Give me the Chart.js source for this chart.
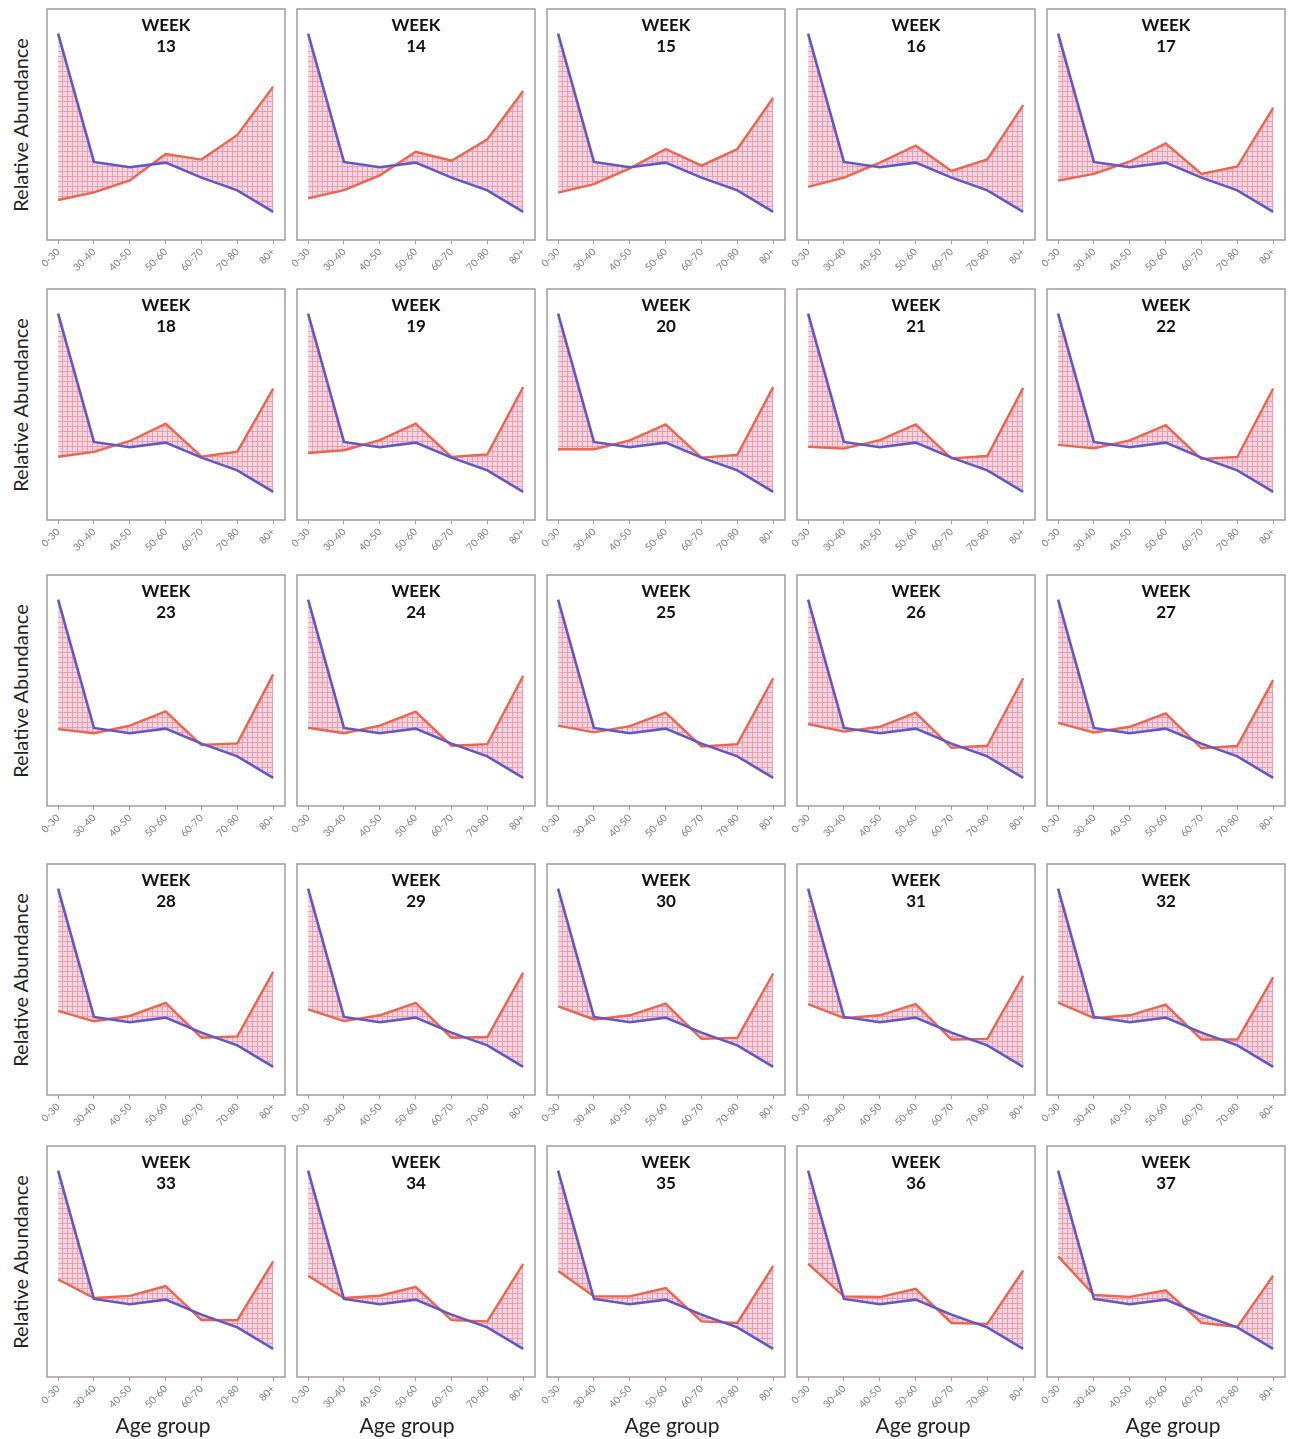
<!DOCTYPE html>
<html>
<head>
<meta charset="utf-8">
<script src="https://cdn.jsdelivr.net/npm/chart.js@4.4.1/dist/chart.umd.min.js"></script>
<style>
    body {
        margin: 0;
        background: #fff;
        width: 1290px;
        height: 1439px;
        position: relative;
        overflow: hidden;
        font-family: Lato, 'Open Sans', sans-serif;
    }
    canvas {
        position: absolute;
    }
    .week {
        position: absolute;
        width: 238px;
        text-align: center;
        font-weight: bold;
        font-size: 17px;
        line-height: 21px;
        color: #111;
    }
    .ylab {
        position: absolute;
        width: 240px;
        height: 24px;
        line-height: 24px;
        text-align: center;
        transform: rotate(-90deg);
        font-size: 20px;
        color: #222;
        white-space: nowrap;
    }
    .xlab {
        position: absolute;
        width: 200px;
        text-align: center;
        font-size: 21px;
        line-height: 24px;
        color: #222;
    }
</style>
</head>
<body>
<script>
    const ageGroups = ['0-30', '30-40', '40-50', '50-60', '60-70', '70-80', '80+'];
    const weeks = [13, 14, 15, 16, 17, 18, 19, 20, 21, 22, 23, 24, 25, 26, 27, 28, 29, 30, 31, 32, 33, 34, 35, 36, 37];

    // purple line, the same in every panel
    const reference = [89.3, 33.8, 31.5, 33.5, 27, 21.5, 12.2];

    // orange line, one per week
    const w13 = [17.3, 20.6, 25.8, 37.2, 34.8, 45.5, 66.4];
    const w14 = [18, 21.6, 28, 38.2, 34.3, 43.6, 64.5];
    const w15 = [20.5, 24.2, 31, 39.4, 32.2, 39.4, 61.6];
    const w16 = [23, 27, 33.5, 40.8, 29.9, 34.9, 58.4];
    const w17 = [25.7, 28.6, 34, 41.8, 28.6, 31.8, 57.2];
    const w18 = [27.4, 29.5, 34.2, 41.7, 27.4, 29.6, 56.9];
    const w19 = [29, 30.2, 34.6, 41.7, 27.3, 28.4, 57.6];
    const w20 = [30.6, 30.6, 34.5, 41.4, 27, 28.2, 57.5];
    const w21 = [31.7, 30.9, 34.6, 41.4, 26.7, 27.7, 57.2];
    const w22 = [32.5, 31, 34.5, 41.1, 26.4, 27.3, 56.9];
    const w23 = [33.3, 31.5, 34.8, 41, 26.4, 27.1, 57];
    const w24 = [33.9, 31.5, 34.8, 40.8, 26.1, 26.8, 56.4];
    const w25 = [34.8, 31.9, 34.6, 40.4, 25.8, 26.8, 55.3];
    const w26 = [35.5, 32.2, 34.3, 40.4, 25.2, 26.1, 55.3];
    const w27 = [36, 31.8, 34.3, 40.1, 25, 26, 54.5];
    const w28 = [36.4, 31.9, 34.2, 39.9, 24.8, 25.4, 53.3];
    const w29 = [37.1, 32, 34.5, 39.9, 24.8, 25.1, 53];
    const w30 = [38.4, 32.7, 34.5, 39.6, 24.3, 24.8, 52.6];
    const w31 = [39.3, 33.3, 34.5, 39.3, 24, 24.3, 51.6];
    const w32 = [40, 33.3, 34.5, 39.1, 24, 24, 50.9];
    const w33 = [42.2, 34.2, 35.1, 39.4, 24.7, 24.6, 50.1];
    const w34 = [43.8, 34.2, 35.2, 39, 24.6, 24.1, 49];
    const w35 = [45.9, 34.9, 34.9, 38.5, 24.1, 23.4, 48.1];
    const w36 = [49, 34.9, 34.6, 38.2, 23.4, 23, 46.1];
    const w37 = [52.2, 35.5, 34.7, 37.5, 23.4, 21.7, 43.9];

    const weekSeries = [w13, w14, w15, w16, w17, w18, w19, w20, w21, w22, w23, w24, w25,
        w26, w27, w28, w29, w30, w31, w32, w33, w34, w35, w36, w37];

    // panel boxes
    const colLeft = [47, 297, 547, 797, 1047];
    const rowTop = [9, 289, 575, 864, 1146];
    const boxW = 238;
    const boxH = 231;
    const padSide = 15;
    const padTop = 3;
    const axisH = 42;
    const ageLabelX = [163, 407, 672, 923, 1173];

    const purple = '#6157c6';
    const orange = '#f0634c';

    // pink hatch with a fine red grid
    function makePattern() {
        const tile = document.createElement('canvas');
        tile.width = 5;
        tile.height = 5;
        const c = tile.getContext('2d');
        c.fillStyle = 'rgba(232, 196, 216, 0.7)';
        c.fillRect(0, 0, 5, 5);
        c.fillStyle = 'rgba(238, 110, 120, 0.55)';
        c.fillRect(0, 0, 5, 1);
        c.fillRect(0, 1, 1, 4);
        return c.createPattern(tile, 'repeat');
    }
    const hatch = makePattern();

    const boxPlugin = {
        id: 'box',
        afterDraw(chart) {
            const a = chart.chartArea;
            const ctx = chart.ctx;
            ctx.save();
            ctx.strokeStyle = '#a39c98';
            ctx.lineWidth = 1.5;
            ctx.strokeRect(a.left, a.top, a.right - a.left, a.bottom - a.top);
            ctx.restore();
        }
    };

    function toPoints(arr) {
        return arr.map((v, i) => ({x: i, y: v}));
    }

    weeks.forEach((week, k) => {
        const row = Math.floor(k / 5);
        const col = k % 5;
        const left = colLeft[col];
        const top = rowTop[row];

        const canvas = document.createElement('canvas');
        canvas.width = boxW + padSide * 2;
        canvas.height = boxH + padTop + axisH;
        canvas.style.left = (left - padSide) + 'px';
        canvas.style.top = (top - padTop) + 'px';
        document.body.appendChild(canvas);

        new Chart(canvas, {
            type: 'line',
            data: {
                datasets: [{
                    data: toPoints(reference),
                    borderColor: purple,
                    borderWidth: 2.6,
                    pointRadius: 0,
                    fill: false
                }, {
                    data: toPoints(weekSeries[k]),
                    borderColor: orange,
                    borderWidth: 2.4,
                    pointRadius: 0,
                    fill: {target: 0, above: hatch, below: hatch}
                }]
            },
            options: {
                responsive: false,
                animation: false,
                layout: {padding: {left: padSide, right: padSide, top: padTop, bottom: 0}},
                plugins: {legend: {display: false}, tooltip: {enabled: false}},
                scales: {
                    x: {
                        type: 'linear',
                        min: -0.31,
                        max: 6.33,
                        afterBuildTicks: scale => {
                            scale.ticks = ageGroups.map((_, i) => ({value: i}));
                        },
                        afterFit: scale => {
                            scale.height = axisH;
                        },
                        ticks: {
                            autoSkip: false,
                            minRotation: 45,
                            maxRotation: 45,
                            padding: 2,
                            color: '#7c7c7c',
                            font: {family: 'Lato', size: 10},
                            callback: v => ageGroups[v]
                        },
                        grid: {display: true, drawOnChartArea: false, drawTicks: true, tickLength: 4, color: '#a39c98'},
                        border: {display: false}
                    },
                    y: {display: false, min: 0, max: 100}
                }
            },
            plugins: [boxPlugin]
        });

        const title = document.createElement('div');
        title.className = 'week';
        title.style.left = left + 'px';
        title.style.top = (top + 4.5) + 'px';
        title.innerHTML = 'WEEK<br>' + week;
        document.body.appendChild(title);
    });

    rowTop.forEach(top => {
        const lab = document.createElement('div');
        lab.className = 'ylab';
        lab.textContent = 'Relative Abundance';
        lab.style.left = (20 - 120) + 'px';
        lab.style.top = (top + boxH / 2 - 12) + 'px';
        document.body.appendChild(lab);
    });

    ageLabelX.forEach(x => {
        const lab = document.createElement('div');
        lab.className = 'xlab';
        lab.textContent = 'Age group';
        lab.style.left = (x - 100) + 'px';
        lab.style.top = (1425 - 12) + 'px';
        document.body.appendChild(lab);
    });
</script>
</body>
</html>
